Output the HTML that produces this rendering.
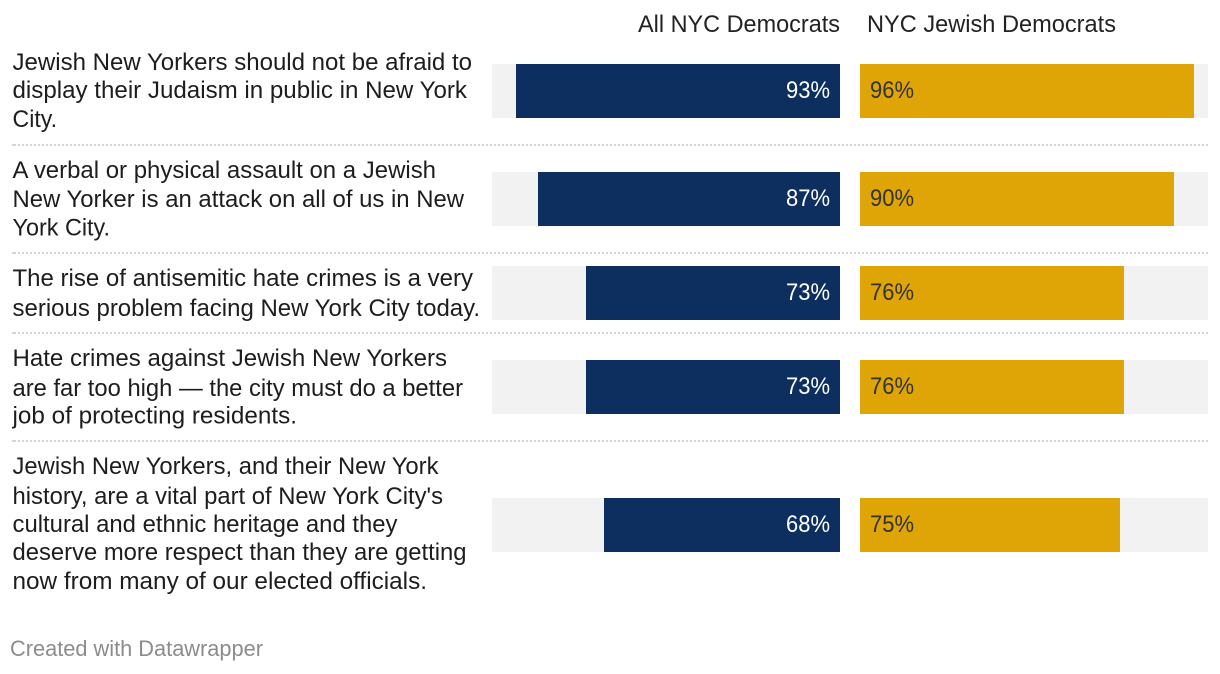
<!DOCTYPE html>
<html lang="en">
<head>
<meta charset="utf-8">
<title>NYC Democrats survey chart</title>
<style>
  html, body { margin: 0; padding: 0; background: #fff; }
  body { width: 1220px; height: 674px; overflow: hidden; }
  svg { display: block; font-family: "Liberation Sans", Arial, sans-serif; }
  .q { font-size: 24px; fill: #1d1d1d; }
  .hd { font-size: 24px; fill: #222; }
  .val { font-size: 24px; }
  .foot { font-size: 22px; fill: #8c8c8c; }
</style>
</head>
<body>
<svg id="chart" width="1220" height="674" viewBox="0 0 1220 674" xmlns="http://www.w3.org/2000/svg">
  <g id="headers">
    <text class="hd" x="638" y="32" textLength="202" lengthAdjust="spacingAndGlyphs">All NYC Democrats</text>
    <text class="hd" x="867" y="32" textLength="249" lengthAdjust="spacingAndGlyphs">NYC Jewish Democrats</text>
  </g>
  <g id="labels">
    <text class="q" x="12.5" y="70" textLength="459.5" lengthAdjust="spacingAndGlyphs">Jewish New Yorkers should not be afraid to</text>
    <text class="q" x="12.5" y="98" textLength="454.5" lengthAdjust="spacingAndGlyphs">display their Judaism in public in New York</text>
    <text class="q" x="12.5" y="127" textLength="44.5" lengthAdjust="spacingAndGlyphs">City.</text>

    <text class="q" x="12.5" y="178" textLength="423.5" lengthAdjust="spacingAndGlyphs">A verbal or physical assault on a Jewish</text>
    <text class="q" x="12.5" y="207" textLength="451.5" lengthAdjust="spacingAndGlyphs">New Yorker is an attack on all of us in New</text>
    <text class="q" x="12.5" y="235.5" textLength="97.5" lengthAdjust="spacingAndGlyphs">York City.</text>

    <text class="q" x="12.5" y="286" textLength="460.5" lengthAdjust="spacingAndGlyphs">The rise of antisemitic hate crimes is a very</text>
    <text class="q" x="12.5" y="316" textLength="467.5" lengthAdjust="spacingAndGlyphs">serious problem facing New York City today.</text>

    <text class="q" x="12.5" y="366" textLength="434.5" lengthAdjust="spacingAndGlyphs">Hate crimes against Jewish New Yorkers</text>
    <text class="q" x="12.5" y="396" textLength="450.5" lengthAdjust="spacingAndGlyphs">are far too high — the city must do a better</text>
    <text class="q" x="12.5" y="423.5" textLength="284.5" lengthAdjust="spacingAndGlyphs">job of protecting residents.</text>

    <text class="q" x="12.5" y="474" textLength="426" lengthAdjust="spacingAndGlyphs">Jewish New Yorkers, and their New York</text>
    <text class="q" x="12.5" y="504" textLength="430.5" lengthAdjust="spacingAndGlyphs">history, are a vital part of New York City's</text>
    <text class="q" x="12.5" y="532" textLength="385" lengthAdjust="spacingAndGlyphs">cultural and ethnic heritage and they</text>
    <text class="q" x="12.5" y="560" textLength="454" lengthAdjust="spacingAndGlyphs">deserve more respect than they are getting</text>
    <text class="q" x="12.5" y="589" textLength="414.5" lengthAdjust="spacingAndGlyphs">now from many of our elected officials.</text>
  </g>
  <g id="separators"></g>
  <g id="bars"></g>
  <text class="foot" x="10" y="656" textLength="253" lengthAdjust="spacingAndGlyphs">Created with Datawrapper</text>
</svg>
<script>
const categories = ["afraid-to-display", "assault-is-attack", "rise-of-hate-crimes", "crimes-too-high", "vital-heritage"];
const labelLineCounts = [3, 3, 2, 3, 5];
const allNycDemocrats = [93, 86.8, 73, 73, 67.8];
const nycJewishDemocrats = [96, 90.2, 76, 76, 74.7];

const SVG_NS = "http://www.w3.org/2000/svg";
const barsGroup = document.getElementById("bars");
const sepGroup = document.getElementById("separators");
const PANEL_W = 348, BAR_H = 54, MAX_VALUE = 100, VALUE_LABEL_W = 44;

function widthScale(v) { return Math.round(v / MAX_VALUE * PANEL_W); }
function rowHeight(i) {
  const extra = i === categories.length - 1 ? 4 : 0;
  return labelLineCounts[i] * 28 + 24 + extra;
}
function rowTop(i) {
  let y = 37;
  for (let k = 0; k < i; k++) y += rowHeight(k);
  return y;
}
function barTop(i) { return rowTop(i) + rowHeight(i) / 2 - BAR_H / 2; }

function makeEl(tag, attrs) {
  const el = document.createElementNS(SVG_NS, tag);
  for (const k in attrs) el.setAttribute(k, attrs[k]);
  return el;
}

categories.forEach(function (cat, i) {
  const y = barTop(i);

  if (i < categories.length - 1) {
    const sy = rowTop(i + 1);
    const sep = makeEl("path", { d: "M12 " + sy + "H14M14 " + sy + "H1208", fill: "none", stroke: "#d4d4d4", "stroke-width": 2, "stroke-dasharray": "2 2" });
    
    
    sepGroup.appendChild(sep);
  }

  // Left panel: bars grow leftward from x = 840
  const leftBg = makeEl("rect", { x: 492, y: y, width: PANEL_W, height: BAR_H, fill: "#f2f2f2" });
  
  
  barsGroup.appendChild(leftBg);

  const lw = widthScale(allNycDemocrats[i]);
  const leftBar = makeEl("rect", { x: 840 - lw, y: y, width: lw, height: BAR_H, fill: "#0c2f60" });
  
  
  barsGroup.appendChild(leftBar);

  const leftVal = makeEl("text", { class: "val", x: 830 - VALUE_LABEL_W, y: y + 34, textLength: VALUE_LABEL_W, lengthAdjust: "spacingAndGlyphs", fill: "#ffffff" });
  leftVal.textContent = Math.round(allNycDemocrats[i]) + "%";
  
  
  barsGroup.appendChild(leftVal);

  // Right panel: bars grow rightward from x = 860
  const rightBg = makeEl("rect", { x: 860, y: y, width: PANEL_W, height: BAR_H, fill: "#f2f2f2" });
  
  
  barsGroup.appendChild(rightBg);

  const rw = widthScale(nycJewishDemocrats[i]);
  const rightBar = makeEl("rect", { x: 860, y: y, width: rw, height: BAR_H, fill: "#dfa406" });
  
  
  barsGroup.appendChild(rightBar);

  const rightVal = makeEl("text", { class: "val", x: 870, y: y + 34, textLength: VALUE_LABEL_W, lengthAdjust: "spacingAndGlyphs", fill: "#333333" });
  rightVal.textContent = Math.round(nycJewishDemocrats[i]) + "%";
  
  
  barsGroup.appendChild(rightVal);
});
</script>
</body>
</html>
